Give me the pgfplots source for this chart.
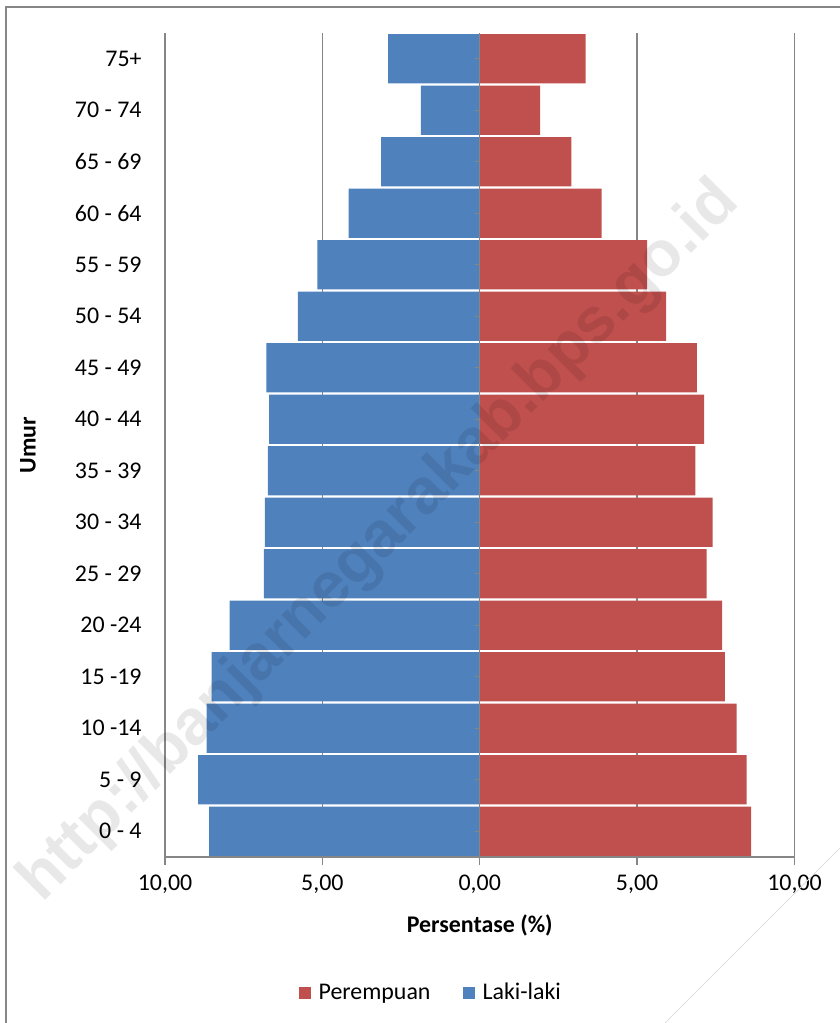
\documentclass[border=0pt]{standalone}
\usepackage{pgfplots}
\pgfplotsset{compat=1.18}
\usepackage{pgfplotstable}
\usepackage{fontspec}
\setmainfont{Carlito}
\newfontfamily\wmfont{Liberation Sans}

\definecolor{lakiblue}{HTML}{4F81BD}
\definecolor{prpred}{HTML}{C0504D}
\definecolor{gridgray}{HTML}{868686}

% persen penduduk per kelompok umur (laki-laki negatif = kiri)
\pgfplotstableread{
y   laki   perempuan
0   -8.60  8.62
1   -8.95  8.48
2   -8.68  8.16
3   -8.52  7.79
4   -7.95  7.70
5   -6.86  7.21
6   -6.83  7.40
7   -6.73  6.85
8   -6.69  7.13
9   -6.78  6.90
10  -5.78  5.92
11  -5.16  5.32
12  -4.17  3.87
13  -3.13  2.91
14  -1.87  1.92
15  -2.91  3.36
}\piramida

\begin{document}
\begin{tikzpicture}[font=\fontsize{12}{14.4}\selectfont]
\useasboundingbox (0,0) rectangle (420bp,-511.5bp);

\begin{axis}[
    at={(82.5bp,-428.5bp)}, anchor=south west,
    scale only axis,
    width=314.75bp, height=412bp,
    xmin=-10, xmax=10,
    ymin=-0.5, ymax=15.5,
    axis x line*=bottom,
    axis y line*=left,
    x axis line style={gridgray, line width=0.7bp},
    y axis line style={draw=none},
    xtick={-10,-5,0,5,10},
    xticklabels={{10,00},{5,00},{0,00},{5,00},{10,00}},
    ytick={0,...,15},
    yticklabels={0 - 4,5 - 9,10 -14,15 -19,20 -24,25 - 29,30 - 34,35 - 39,
                 40 - 44,45 - 49,50 - 54,55 - 59,60 - 64,65 - 69,70 - 74,75+},
    tick align=outside,
    major tick length=4bp,
    xtick style={gridgray, line width=0.7bp},
    ytick style={draw=none},
    xmajorgrids,
    major grid style={gridgray, line width=0.7bp},
    yticklabel style={anchor=east, inner sep=0pt, xshift=-7.5bp},
    xticklabel style={yshift=-1.5bp},
    xlabel={\textbf{Persentase (\%)}},
    xlabel style={at={(axis description cs:0.5,0)}, anchor=center, yshift=-34bp},
    ylabel={\textbf{Umur}},
    ylabel style={at={(axis description cs:0,0.5)}, anchor=center, yshift=68.5bp},
    legend columns=2,
    legend style={at={(0.427,-0.165)}, anchor=center, draw=none, fill=none,
                  /tikz/every even column/.append style={column sep=12bp},
                  nodes={inner xsep=4bp},
                  font=\fontsize{12}{14.4}\selectfont},
    legend image code/.code={\fill[#1] (0bp,-3bp) rectangle (6bp,3bp);},
]
\addplot[xbar, bar shift=0pt, bar width=0.96, fill=prpred, draw=none]
    table[x=perempuan, y=y] {\piramida};
\addlegendentry{Perempuan}
\addplot[xbar, bar shift=0pt, bar width=0.96, fill=lakiblue, draw=none]
    table[x=laki, y=y] {\piramida};
\addlegendentry{Laki-laki}

% sumbu kategori di nol
\draw[gridgray, line width=0.7bp] (axis cs:0,-0.5) -- (axis cs:0,15.5);
\pgfplotsinvokeforeach{0,...,15}{
    \draw[gridgray, line width=0.7bp] (axis cs:0,#1) -- ++(-2.5bp,0bp);
}
\end{axis}

\begin{scope}[x=0.5bp, y=-0.5bp]
% bingkai
\draw[gridgray, line width=0.7bp] (6,1023) -- (6,7) -- (840,7);
% watermark
\node[rotate=45, text=black, text opacity=0.09, font=\wmfont\bfseries\fontsize{32}{36}\selectfont]
    at (380,542) {http://banjarnegarakab.bps.go.id};
\draw[black!12, line width=0.5bp] (840,848) -- (665,1023);
\end{scope}
\end{tikzpicture}
\end{document}
